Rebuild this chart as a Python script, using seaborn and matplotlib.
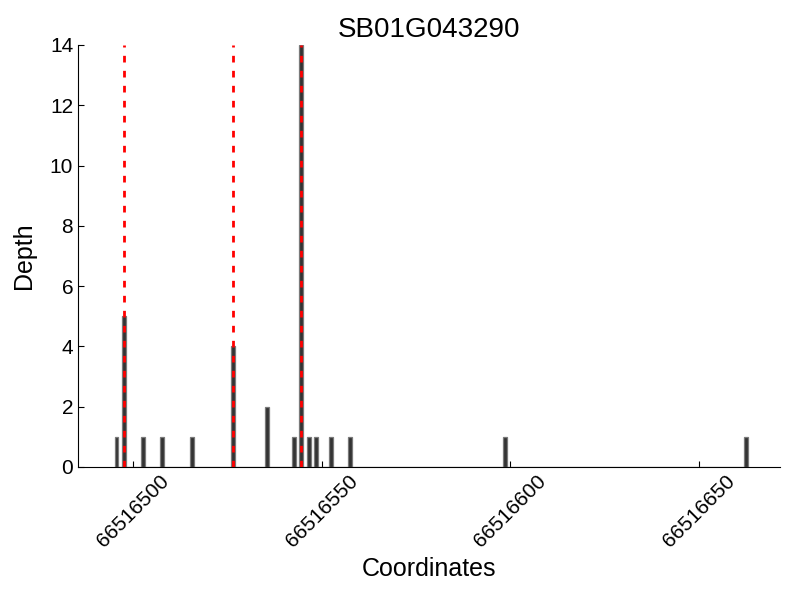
import pandas as pd
import seaborn as sns
import matplotlib.pyplot as plt

gene = "SB01G043290"
coords = [66516495, 66516497, 66516502, 66516507, 66516515, 66516526, 66516535,
          66516542, 66516544, 66516546, 66516548, 66516552, 66516557, 66516598,
          66516662]
depths = [1, 5, 1, 1, 1, 4, 2, 1, 14, 1, 1, 1, 1, 1, 1]
peaks = [66516497, 66516526, 66516544]
xticks = [66516500, 66516550, 66516600, 66516650]

df = pd.DataFrame({"coord": coords, "depth": depths})

sns.set_style("ticks", {"axes.edgecolor": "black", "text.color": "black",
                        "axes.labelcolor": "black", "xtick.color": "black",
                        "ytick.color": "black"})
plt.rcParams["font.family"] = ["Liberation Sans", "DejaVu Sans"]

fig = plt.figure(figsize=(8, 6), dpi=100)
ax = fig.add_axes([0.0975, 0.222, 0.8775, 0.703])

sns.histplot(data=df, x="coord", weights="depth", binwidth=1,
             binrange=(min(coords), max(coords) + 1), ax=ax,
             color="#333333", alpha=1, edgecolor="#7a7a7a", linewidth=0.9)

for p in peaks:
    ax.plot([p + 0.5, p + 0.5], [0, 14], color="red", lw=2,
            linestyle=(0, (2.4, 3)), zorder=3)

ax.set_xlim(66516485.3, 66516671.5)
ax.set_ylim(0, 14)
ax.set_xticks(xticks)
ax.set_xticklabels([str(t) for t in xticks], rotation=45, ha="center",
                   fontsize=15)
ax.tick_params(axis="both", direction="in", length=4, width=0.8, labelsize=15)
ax.set_yticks(range(0, 15, 2))
ax.set_xlabel("Coordinates", fontsize=18)
ax.set_ylabel("Depth", fontsize=18, labelpad=10)
ax.set_title(gene, fontsize=20)
sns.despine(ax=ax)

fig.savefig("out.png", dpi=100)
